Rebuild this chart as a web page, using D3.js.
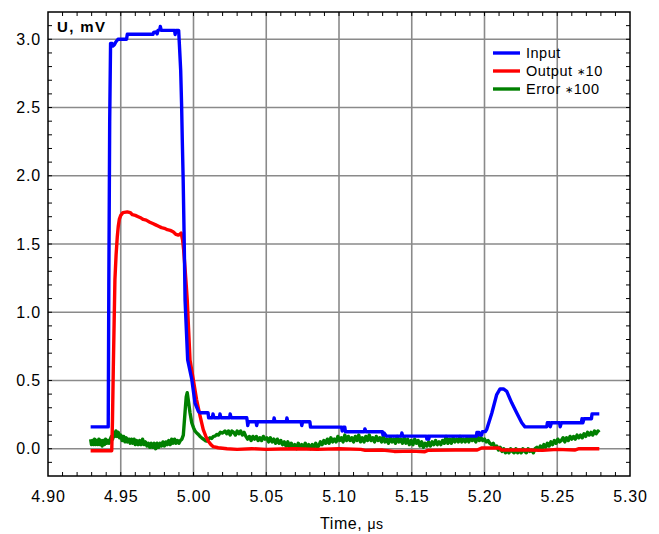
<!DOCTYPE html>
<html>
<head>
<meta charset="utf-8">
<script src="https://cdn.jsdelivr.net/npm/d3@7"></script>
<style>
  body { margin: 0; background: #fff; }
  text { font-family: "Liberation Sans", Arial, sans-serif; fill: #000; }
</style>
</head>
<body>
<svg id="chart" width="659" height="534"></svg>
<script>
// Input signal, mV
const inputData = [
  [4.9293,0.16],[4.9414,0.16],[4.9418,1.2],[4.9424,2.4],[4.9430,2.97],[4.9440,2.97],[4.9446,2.95],[4.9456,2.96],
  [4.9466,2.98],[4.9481,3.00],[4.9540,3.00],[4.9545,3.037],[4.9722,3.037],[4.9726,3.05],[4.9745,3.055],[4.9750,3.04],
  [4.9756,3.065],[4.9768,3.07],[4.9772,3.094],[4.9778,3.065],[4.9870,3.065],[4.9874,3.035],[4.9880,3.065],[4.9898,3.065],
  [4.9905,2.92],[4.9912,2.77],[4.9918,2.53],[4.9923,2.26],[4.9929,1.97],[4.9935,1.60],[4.9942,1.09],[4.9960,0.65],
  [4.9988,0.51],[5.0010,0.336],[5.0033,0.275],[5.0045,0.263],[5.0100,0.263],[5.0104,0.227],[5.0130,0.227],[5.0134,0.255],
  [5.0140,0.227],[5.0178,0.227],[5.0182,0.255],[5.0188,0.227],[5.0248,0.227],[5.0252,0.255],[5.0258,0.227],[5.0366,0.227],
  [5.0370,0.197],[5.0373,0.17],[5.0378,0.197],[5.0430,0.197],[5.0434,0.17],[5.0440,0.197],[5.0550,0.197],[5.0554,0.225],
  [5.0560,0.197],[5.0638,0.197],[5.0642,0.225],[5.0648,0.197],[5.0740,0.197],[5.0744,0.17],[5.0750,0.197],[5.0800,0.197],
  [5.0804,0.158],[5.1018,0.158],[5.1022,0.13],[5.1030,0.158],[5.1040,0.158],[5.1044,0.124],[5.1174,0.124],[5.1178,0.145],
  [5.1186,0.124],[5.1298,0.124],[5.1302,0.10],[5.1310,0.115],[5.1326,0.092],[5.1428,0.092],[5.1432,0.115],[5.1438,0.092],
  [5.1600,0.092],[5.1604,0.07],[5.1612,0.092],[5.1616,0.07],[5.1622,0.092],[5.1944,0.092],[5.1948,0.12],[5.1962,0.12],
  [5.1966,0.10],[5.1980,0.10],[5.1986,0.125],[5.2005,0.125],[5.2015,0.14],[5.2050,0.26],[5.2084,0.397],[5.2107,0.438],
  [5.2130,0.438],[5.2153,0.42],[5.2187,0.336],[5.2221,0.263],[5.2256,0.19],[5.2278,0.16],[5.2428,0.16],[5.2432,0.19],
  [5.2448,0.19],[5.2452,0.16],[5.2460,0.19],[5.2516,0.19],[5.2520,0.16],[5.2528,0.19],[5.2666,0.19],[5.2670,0.22],
  [5.2676,0.19],[5.2684,0.22],[5.2735,0.22],[5.2739,0.255],[5.2789,0.255]
];

// Output *10
const outputData = [
  [4.9293,-0.015],[4.9438,-0.015],[4.9443,0.2],[4.9449,0.6],[4.9455,0.95],[4.9460,1.24],[4.9468,1.42],[4.9476,1.55],
  [4.9483,1.63],[4.9490,1.68],[4.9500,1.71],[4.9515,1.73],[4.9545,1.735],[4.9565,1.73],[4.9580,1.715],[4.9600,1.71],
  [4.9620,1.70],[4.9640,1.69],[4.9655,1.68],[4.9675,1.675],[4.9700,1.66],[4.9720,1.65],[4.9740,1.64],[4.9760,1.63],
  [4.9780,1.62],[4.9800,1.615],[4.9820,1.605],[4.9840,1.60],[4.9860,1.59],[4.9880,1.57],[4.9895,1.565],[4.9905,1.57],
  [4.9915,1.58],[4.9925,1.53],[4.9932,1.46],[4.9942,1.32],[4.9950,1.20],[4.9957,1.09],[4.9966,0.88],[4.9976,0.65],
  [4.9998,0.51],[5.0021,0.36],[5.0045,0.24],[5.0067,0.14],[5.0085,0.09],[5.0101,0.056],[5.0120,0.03],[5.0136,0.015],
  [5.0170,0.007],[5.0230,0.0],[5.0300,-0.005],[5.0400,0.0],[5.0500,-0.005],[5.0600,-0.002],[5.0700,0.0],[5.0850,-0.005],
  [5.1000,0.0],[5.1150,-0.005],[5.1180,-0.012],[5.1300,-0.01],[5.1380,-0.02],[5.1500,-0.018],[5.1590,-0.022],[5.1610,-0.012],
  [5.1800,-0.01],[5.1950,-0.01],[5.1980,0.005],[5.2100,0.005],[5.2115,-0.01],[5.2300,-0.01],[5.2400,-0.012],[5.2500,-0.005],
  [5.2620,-0.01],[5.2650,0.0],[5.2789,0.0]
];

// Error *100
const errorData = [
  [4.9293,0.07],[4.9299,0.03],[4.9306,0.06],[4.9313,0.03],[4.9320,0.07],[4.9327,0.03],[4.9334,0.06],[4.9342,0.03],
  [4.9350,0.07],[4.9357,0.03],[4.9365,0.06],[4.9372,0.02],[4.9380,0.06],[4.9388,0.03],[4.9396,0.07],[4.9404,0.04],
  [4.9412,0.06],[4.9420,0.04],[4.9428,0.07],[4.9436,0.09],[4.9444,0.07],[4.9452,0.12],[4.9460,0.09],[4.9467,0.13],
  [4.9475,0.09],[4.9483,0.12],[4.9492,0.08],[4.9500,0.10],[4.9510,0.06],[4.9520,0.09],[4.9529,0.05],[4.9538,0.08],
  [4.9547,0.05],[4.9556,0.07],[4.9565,0.04],[4.9574,0.07],[4.9583,0.04],[4.9592,0.07],[4.9600,0.03],[4.9610,0.06],
  [4.9620,0.03],[4.9630,0.06],[4.9640,0.03],[4.9650,0.07],[4.9660,0.03],[4.9670,0.05],[4.9680,0.02],[4.9690,0.04],
  [4.9700,0.01],[4.9710,0.04],[4.9720,0.01],[4.9730,0.04],[4.9740,0.00],[4.9750,0.04],[4.9760,0.01],[4.9770,0.04],
  [4.9780,0.02],[4.9790,0.05],[4.9800,0.02],[4.9810,0.05],[4.9820,0.03],[4.9830,0.06],[4.9840,0.03],[4.9850,0.07],
  [4.9860,0.04],[4.9870,0.07],[4.9880,0.04],[4.9890,0.06],[4.9900,0.04],[4.9910,0.06],[4.9920,0.07],[4.9930,0.10],
  [4.9942,0.27],[4.9950,0.38],[4.9957,0.41],[4.9965,0.35],[4.9976,0.263],[4.9988,0.19],[5.0000,0.155],[5.0010,0.13],
  [5.0022,0.115],[5.0033,0.105],[5.0045,0.09],[5.0056,0.08],[5.0068,0.07],[5.0080,0.06],[5.0091,0.056],[5.0102,0.07],
  [5.0113,0.08],[5.0125,0.075],[5.0137,0.09],[5.0148,0.092],[5.0160,0.105],[5.0172,0.10],[5.0185,0.12],[5.0200,0.115],
  [5.0216,0.13],[5.0228,0.11],[5.0240,0.13],[5.0252,0.10],[5.0264,0.13],[5.0276,0.12],[5.0288,0.10],[5.0300,0.13],
  [5.0312,0.11],[5.0324,0.13],[5.0336,0.10],[5.0348,0.12],[5.0360,0.09],[5.0372,0.07],[5.0384,0.09],[5.0396,0.06],
  [5.0408,0.09],[5.0420,0.07],[5.0432,0.09],[5.0444,0.06],[5.0456,0.08],[5.0468,0.06],[5.0480,0.09],[5.0492,0.07],
  [5.0504,0.08],[5.0516,0.05],[5.0528,0.08],[5.0540,0.05],[5.0552,0.07],[5.0564,0.04],[5.0576,0.07],[5.0588,0.04],
  [5.0600,0.06],[5.0612,0.03],[5.0624,0.05],[5.0636,0.02],[5.0648,0.05],[5.0660,0.01],[5.0672,0.04],[5.0684,0.01],
  [5.0696,0.03],[5.0708,0.00],[5.0720,0.04],[5.0732,0.01],[5.0744,0.03],[5.0756,0.01],[5.0768,0.04],[5.0780,0.01],
  [5.0792,0.03],[5.0804,0.00],[5.0816,0.03],[5.0828,0.01],[5.0840,0.04],[5.0852,0.01],[5.0860,0.02],[5.0872,0.05],
  [5.0884,0.03],[5.0896,0.06],[5.0908,0.04],[5.0920,0.07],[5.0932,0.04],[5.0944,0.08],[5.0956,0.05],[5.0968,0.07],
  [5.0980,0.05],[5.0992,0.09],[5.1004,0.06],[5.1016,0.08],[5.1028,0.05],[5.1040,0.10],[5.1052,0.06],[5.1064,0.09],
  [5.1076,0.06],[5.1088,0.08],[5.1100,0.05],[5.1112,0.09],[5.1124,0.06],[5.1136,0.10],[5.1148,0.05],[5.1160,0.08],
  [5.1172,0.05],[5.1184,0.09],[5.1196,0.06],[5.1208,0.10],[5.1220,0.06],[5.1232,0.08],[5.1244,0.05],[5.1256,0.09],
  [5.1268,0.06],[5.1280,0.08],[5.1292,0.05],[5.1304,0.09],[5.1316,0.05],[5.1328,0.07],[5.1340,0.04],[5.1352,0.08],
  [5.1364,0.05],[5.1376,0.07],[5.1388,0.04],[5.1400,0.09],[5.1412,0.05],[5.1424,0.07],[5.1436,0.04],[5.1448,0.08],
  [5.1460,0.04],[5.1472,0.07],[5.1484,0.03],[5.1496,0.06],[5.1508,0.03],[5.1520,0.07],[5.1532,0.04],[5.1544,0.06],
  [5.1556,0.02],[5.1568,0.05],[5.1580,0.01],[5.1592,0.04],[5.1604,0.02],[5.1616,0.05],[5.1628,0.02],[5.1640,0.05],
  [5.1652,0.03],[5.1664,0.06],[5.1676,0.03],[5.1688,0.05],[5.1700,0.03],[5.1712,0.06],[5.1724,0.04],[5.1736,0.09],
  [5.1748,0.04],[5.1760,0.07],[5.1772,0.04],[5.1784,0.08],[5.1796,0.05],[5.1808,0.07],[5.1820,0.05],[5.1832,0.09],
  [5.1844,0.05],[5.1856,0.07],[5.1868,0.05],[5.1880,0.08],[5.1892,0.05],[5.1904,0.08],[5.1916,0.06],[5.1928,0.08],
  [5.1940,0.05],[5.1952,0.09],[5.1964,0.06],[5.1976,0.08],[5.1988,0.06],[5.2000,0.07],[5.2012,0.05],[5.2024,0.06],
  [5.2036,0.04],[5.2048,0.03],[5.2060,0.04],[5.2072,0.01],[5.2084,0.02],[5.2096,-0.01],[5.2108,0.01],[5.2120,-0.02],
  [5.2132,0.00],[5.2144,-0.03],[5.2156,-0.01],[5.2168,-0.03],[5.2180,0.00],[5.2192,-0.02],[5.2204,-0.03],[5.2216,0.00],
  [5.2228,-0.03],[5.2240,-0.01],[5.2252,-0.03],[5.2264,0.00],[5.2276,-0.02],[5.2288,-0.03],[5.2300,0.00],[5.2312,-0.02],
  [5.2324,-0.01],[5.2336,-0.03],[5.2348,0.00],[5.2360,0.01],[5.2372,-0.01],[5.2384,0.02],[5.2396,0.00],[5.2408,0.03],
  [5.2420,0.01],[5.2432,0.04],[5.2444,0.02],[5.2456,0.05],[5.2468,0.03],[5.2480,0.06],[5.2492,0.04],[5.2504,0.07],
  [5.2516,0.05],[5.2528,0.06],[5.2540,0.08],[5.2552,0.05],[5.2564,0.08],[5.2576,0.06],[5.2588,0.09],[5.2600,0.07],
  [5.2612,0.09],[5.2624,0.07],[5.2636,0.10],[5.2648,0.08],[5.2660,0.10],[5.2672,0.08],[5.2684,0.11],[5.2696,0.09],
  [5.2708,0.12],[5.2720,0.10],[5.2732,0.12],[5.2744,0.10],[5.2756,0.13],[5.2768,0.11],[5.2780,0.13],[5.2789,0.12]
];

const seriesNames = ['Input', 'Output', 'Error'];
const seriesFactors = ['', '10', '100'];
const seriesColors = ['#0000ff', '#ff0000', '#008000'];

const xTicks = [4.90, 4.95, 5.00, 5.05, 5.10, 5.15, 5.20, 5.25, 5.30];
const xTickLabels = ['4.90', '4.95', '5.00', '5.05', '5.10', '5.15', '5.20', '5.25', '5.30'];
const yTicks = [0.0, 0.5, 1.0, 1.5, 2.0, 2.5, 3.0];
const yTickLabels = ['0.0', '0.5', '1.0', '1.5', '2.0', '2.5', '3.0'];

const plotL = 48, plotT = 12, plotR = 630, plotB = 476;
const plotW = plotR - plotL, plotH = plotB - plotT;

const svg = d3.select('#chart');

const x = d3.scaleLinear().domain([4.90, 5.30]).range([plotL, plotR]);
const y = d3.scaleLinear().domain([-0.2, 3.2]).range([plotB, plotT]);

// grid lines
const grid = svg.append('g').attr('stroke', '#8a8a8a').attr('stroke-width', 1.6);
grid.selectAll('.gx').data(xTicks.slice(1, -1)).enter().append('line')
  .attr('x1', d => x(d)).attr('x2', d => x(d))
  .attr('y1', plotT).attr('y2', plotB);
grid.selectAll('.gy').data(yTicks).enter().append('line')
  .attr('x1', plotL).attr('x2', plotR)
  .attr('y1', d => y(d)).attr('y2', d => y(d));

// minor ticks on all four sides, inside the frame
const xMinor = d3.range(4.91, 5.295, 0.01);
const yMinor = d3.range(-0.1, 3.15, 0.1);
const tk = svg.append('g').attr('stroke', '#000').attr('stroke-width', 1);
tk.selectAll('.mb').data(xMinor).enter().append('line')
  .attr('x1', d => x(d)).attr('x2', d => x(d)).attr('y1', plotB).attr('y2', plotB - 4);
tk.selectAll('.mt').data(xMinor).enter().append('line')
  .attr('x1', d => x(d)).attr('x2', d => x(d)).attr('y1', plotT).attr('y2', plotT + 4);
tk.selectAll('.ml').data(yMinor).enter().append('line')
  .attr('y1', d => y(d)).attr('y2', d => y(d)).attr('x1', plotL).attr('x2', plotL + 4);
tk.selectAll('.mr').data(yMinor).enter().append('line')
  .attr('y1', d => y(d)).attr('y2', d => y(d)).attr('x1', plotR).attr('x2', plotR - 4);

// series
svg.append('clipPath').attr('id', 'clip').append('rect')
  .attr('x', plotL).attr('y', plotT).attr('width', plotW).attr('height', plotH);

const line = d3.line().x(d => x(d[0])).y(d => y(d[1]));
const plot = svg.append('g').attr('clip-path', 'url(#clip)');
[errorData, outputData, inputData].forEach((data, i) => {
  plot.append('path')
    .datum(data)
    .attr('d', line)
    .attr('fill', 'none')
    .attr('stroke', seriesColors[2 - i])
    .attr('stroke-width', 3.4)
    .attr('stroke-linejoin', 'round');
});

// frame
svg.append('rect')
  .attr('x', plotL).attr('y', plotT).attr('width', plotW).attr('height', plotH)
  .attr('fill', 'none').attr('stroke', '#000').attr('stroke-width', 1.5);

// tick labels
svg.selectAll('.xl').data(xTicks).enter().append('text')
  .attr('x', d => x(d) + 0.5).attr('y', 502)
  .attr('text-anchor', 'middle')
  .style('font-size', '16px').style('letter-spacing', '0.8px')
  .text((d, i) => xTickLabels[i]);

svg.selectAll('.yl').data(yTicks).enter().append('text')
  .attr('x', 41).attr('y', d => y(d) + 5.7)
  .attr('text-anchor', 'end')
  .style('font-size', '16px').style('letter-spacing', '0.8px')
  .text((d, i) => yTickLabels[i]);

// axis titles
svg.append('text')
  .attr('x', 57).attr('y', 32)
  .style('font-size', '15px').style('font-weight', 'bold').style('letter-spacing', '1.4px')
  .text('U, mV');

const xt = svg.append('text').attr('x', 320).attr('y', 529)
  .style('font-size', '16px').style('letter-spacing', '0.6px');
xt.append('tspan').text('Time, ');
xt.append('tspan').style('font-size', '14px').text('\u03bcs');

// legend
const legend = svg.append('g');
seriesNames.forEach((name, i) => {
  const ly = 53 + i * 18;
  legend.append('line')
    .attr('x1', 493).attr('x2', 520).attr('y1', ly).attr('y2', ly)
    .attr('stroke', seriesColors[i]).attr('stroke-width', 3.4);
  const t = legend.append('text')
    .attr('x', 526).attr('y', ly + 5)
    .style('font-size', '14.5px').style('letter-spacing', '0.5px');
  t.append('tspan').text(name);
  if (seriesFactors[i]) {
    t.append('tspan').text(' ');
    t.append('tspan').style('font-size', '10px').attr('dy', -1).text('\u2217');
    t.append('tspan').attr('dy', 1).text(seriesFactors[i]);
  }
});
</script>
</body>
</html>
